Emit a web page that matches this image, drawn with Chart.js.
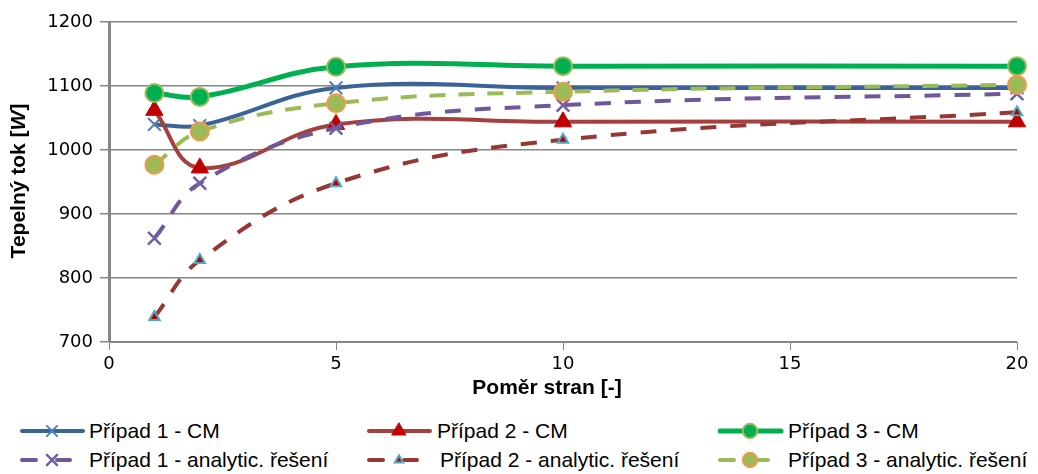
<!DOCTYPE html>
<html>
<head>
<meta charset="utf-8">
<script src="https://cdn.jsdelivr.net/npm/chart.js@4/dist/chart.umd.min.js"></script>
<style>
  body { margin: 0; background: #fff; }
  #wrap { position: relative; width: 1038px; height: 474px; }
  #chart { position: absolute; left: 0; top: 0; }
  .item { position: absolute; height: 24px; display: flex; align-items: center;
          font-family: "Liberation Sans", Arial, sans-serif; font-size: 21px; color: #000; white-space: nowrap; }
  .item canvas { display: block; }
</style>
</head>
<body>
<div id="wrap">
  <canvas id="chart" width="1038" height="400"></canvas>
  <div id="legend"></div>
</div>
<script>
// data
var ratios = [1, 2, 5, 10, 20];
var case1CM = [1040, 1038, 1097, 1097, 1097];
var case2CM = [1062, 972, 1040, 1044, 1044];
var case3CM = [1089, 1083, 1130, 1131, 1131];
var case1An = [862, 948, 1034, 1070, 1088];
var case2An = [739, 828, 948, 1016, 1059];
var case3An = [977, 1029, 1073, 1091, 1102];
var yTicks = [700, 800, 900, 1000, 1100, 1200];
var xTicks = [0, 5, 10, 15, 20];
var seriesNames = ['Případ 1 - CM', 'Případ 2 - CM', 'Případ 3 - CM',
                   'Případ 1 - analytic. řešení', 'Případ 2 - analytic. řešení', 'Případ 3 - analytic. řešení'];

function pts(vals) {
    return vals.map(function(v, i) { return { x: ratios[i], y: v }; });
}

var styles = [
    { line: '#3A6397', dash: [], width: 4, ps: 'crossRot', r: 9, fill: '#4F81BD', border: '#4F81BD', bw: 2 },
    { line: '#A5403E', dash: [], width: 4, ps: 'triangle', r: 10, fill: '#C00000', border: '#C00000', bw: 1 },
    { line: '#00B050', dash: [], width: 5, ps: 'circle', r: 9, fill: '#00B050', border: '#9BBB59', bw: 2 },
    { line: '#6F579B', dash: [16, 14], width: 4, ps: 'crossRot', r: 9, fill: '#7060A0', border: '#7060A0', bw: 2.5 },
    { line: '#953735', dash: [16, 14], width: 4, ps: 'triangle', r: 6, fill: '#C00000', border: '#4BACC6', bw: 2 },
    { line: '#9BBB59', dash: [16, 13], width: 4, ps: 'circle', r: 9, fill: '#9BBB59', border: '#F79646', bw: 2 }
];
var values = [case1CM, case2CM, case3CM, case1An, case2An, case3An];

var datasets = values.map(function(v, i) {
    var s = styles[i];
    return {
        label: seriesNames[i],
        data: pts(v),
        borderColor: s.line,
        borderWidth: s.width,
        borderDash: s.dash,
        tension: 0.4,
        pointStyle: s.ps,
        pointRadius: s.r,
        pointBackgroundColor: s.fill,
        pointBorderColor: s.border,
        pointBorderWidth: s.bw,
        order: 5 - i,
        clip: false
    };
});

// axis titles drawn by hand so the W can be italic
var titles = {
    id: 'titles',
    afterDraw: function(chart) {
        var c = chart.ctx;
        c.save();
        c.fillStyle = '#000';
        c.textBaseline = 'middle';
        c.font = 'bold 21px "Liberation Sans", Arial';
        c.textAlign = 'center';
        c.fillText('Poměr stran [-]', 547, 388);

        c.translate(19, 181);
        c.rotate(-Math.PI / 2);
        var a = 'Tepelný tok [', b = 'W', d = ']';
        c.font = 'bold 21px "Liberation Sans", Arial';
        var wa = c.measureText(a).width, wd = c.measureText(d).width;
        c.font = 'bold italic 21px "Liberation Sans", Arial';
        var wb = c.measureText(b).width;
        var x0 = -(wa + wb + wd) / 2;
        c.textAlign = 'left';
        c.font = 'bold 21px "Liberation Sans", Arial';
        c.fillText(a, x0, 0);
        c.font = 'bold italic 21px "Liberation Sans", Arial';
        c.fillText(b, x0 + wa, 0);
        c.font = 'bold 21px "Liberation Sans", Arial';
        c.fillText(d, x0 + wa + wb, 0);
        c.restore();
    }
};

var tickFont = { family: 'DejaVu Sans, Verdana, sans-serif', size: 18 };

var ctx = document.getElementById('chart').getContext('2d');
var myChart = new Chart(ctx, {
    type: 'line',
    data: { datasets: datasets },
    options: {
        responsive: false,
        animation: false,
        layout: { padding: { top: 22, right: 21, left: 0, bottom: 0 } },
        plugins: {
            legend: { display: false },
            tooltip: { enabled: false }
        },
        scales: {
            x: {
                type: 'linear',
                min: 0,
                max: 20,
                afterFit: function(s) { s.height = 58; },
                afterBuildTicks: function(s) { s.ticks = xTicks.map(function(v) { return { value: v }; }); },
                grid: { drawOnChartArea: false, color: '#868686', tickLength: 8, lineWidth: 1 },
                border: { color: '#868686', width: 1 },
                ticks: { color: '#000', font: tickFont, padding: 4, maxRotation: 0,
                         callback: function(v) { return String(v); } }
            },
            y: {
                min: 700,
                max: 1200,
                afterFit: function(s) { s.width = 109; },
                afterBuildTicks: function(s) { s.ticks = yTicks.map(function(v) { return { value: v }; }); },
                grid: { color: '#868686', tickLength: 9, lineWidth: 1.5 },
                border: { color: '#868686', width: 3 },
                ticks: { color: '#000', font: tickFont, padding: 7,
                         callback: function(v) { return String(v); } }
            }
        }
    },
    plugins: [titles]
});

// legend in 3 columns, 2 rows
var legendPos = [
    { x: 20, y: 431, tx: 89 }, { x: 367, y: 431, tx: 437 }, { x: 718, y: 431, tx: 788 },
    { x: 20, y: 460, tx: 89 }, { x: 367, y: 460, tx: 440 }, { x: 718, y: 460, tx: 788 }
];
var legend = document.getElementById('legend');
datasets.forEach(function(ds, i) {
    var p = legendPos[i], s = styles[i];
    var item = document.createElement('div');
    item.className = 'item';
    item.style.left = p.x + 'px';
    item.style.top = (p.y - 12) + 'px';
    var cv = document.createElement('canvas');
    cv.width = p.tx - p.x;
    cv.height = 24;
    item.appendChild(cv);
    var sp = document.createElement('span');
    sp.textContent = ds.label;
    item.appendChild(sp);
    legend.appendChild(item);

    var g = cv.getContext('2d');
    g.strokeStyle = s.line;
    g.lineWidth = s.width;
    g.lineCap = 'round';
    if (s.dash.length) {
        g.beginPath(); g.moveTo(2, 12); g.lineTo(16, 12); g.stroke();
        g.beginPath(); g.moveTo(37, 12); g.lineTo(50, 12); g.stroke();
    } else {
        g.beginPath(); g.moveTo(2, 12); g.lineTo(63, 12); g.stroke();
    }
    g.fillStyle = s.fill;
    g.strokeStyle = s.border;
    g.lineWidth = s.bw;
    Chart.helpers.drawPoint(g, { pointStyle: s.ps, radius: s.r * 0.8, borderWidth: s.bw, rotation: 0 }, 32, 12);
});
</script>
</body>
</html>
